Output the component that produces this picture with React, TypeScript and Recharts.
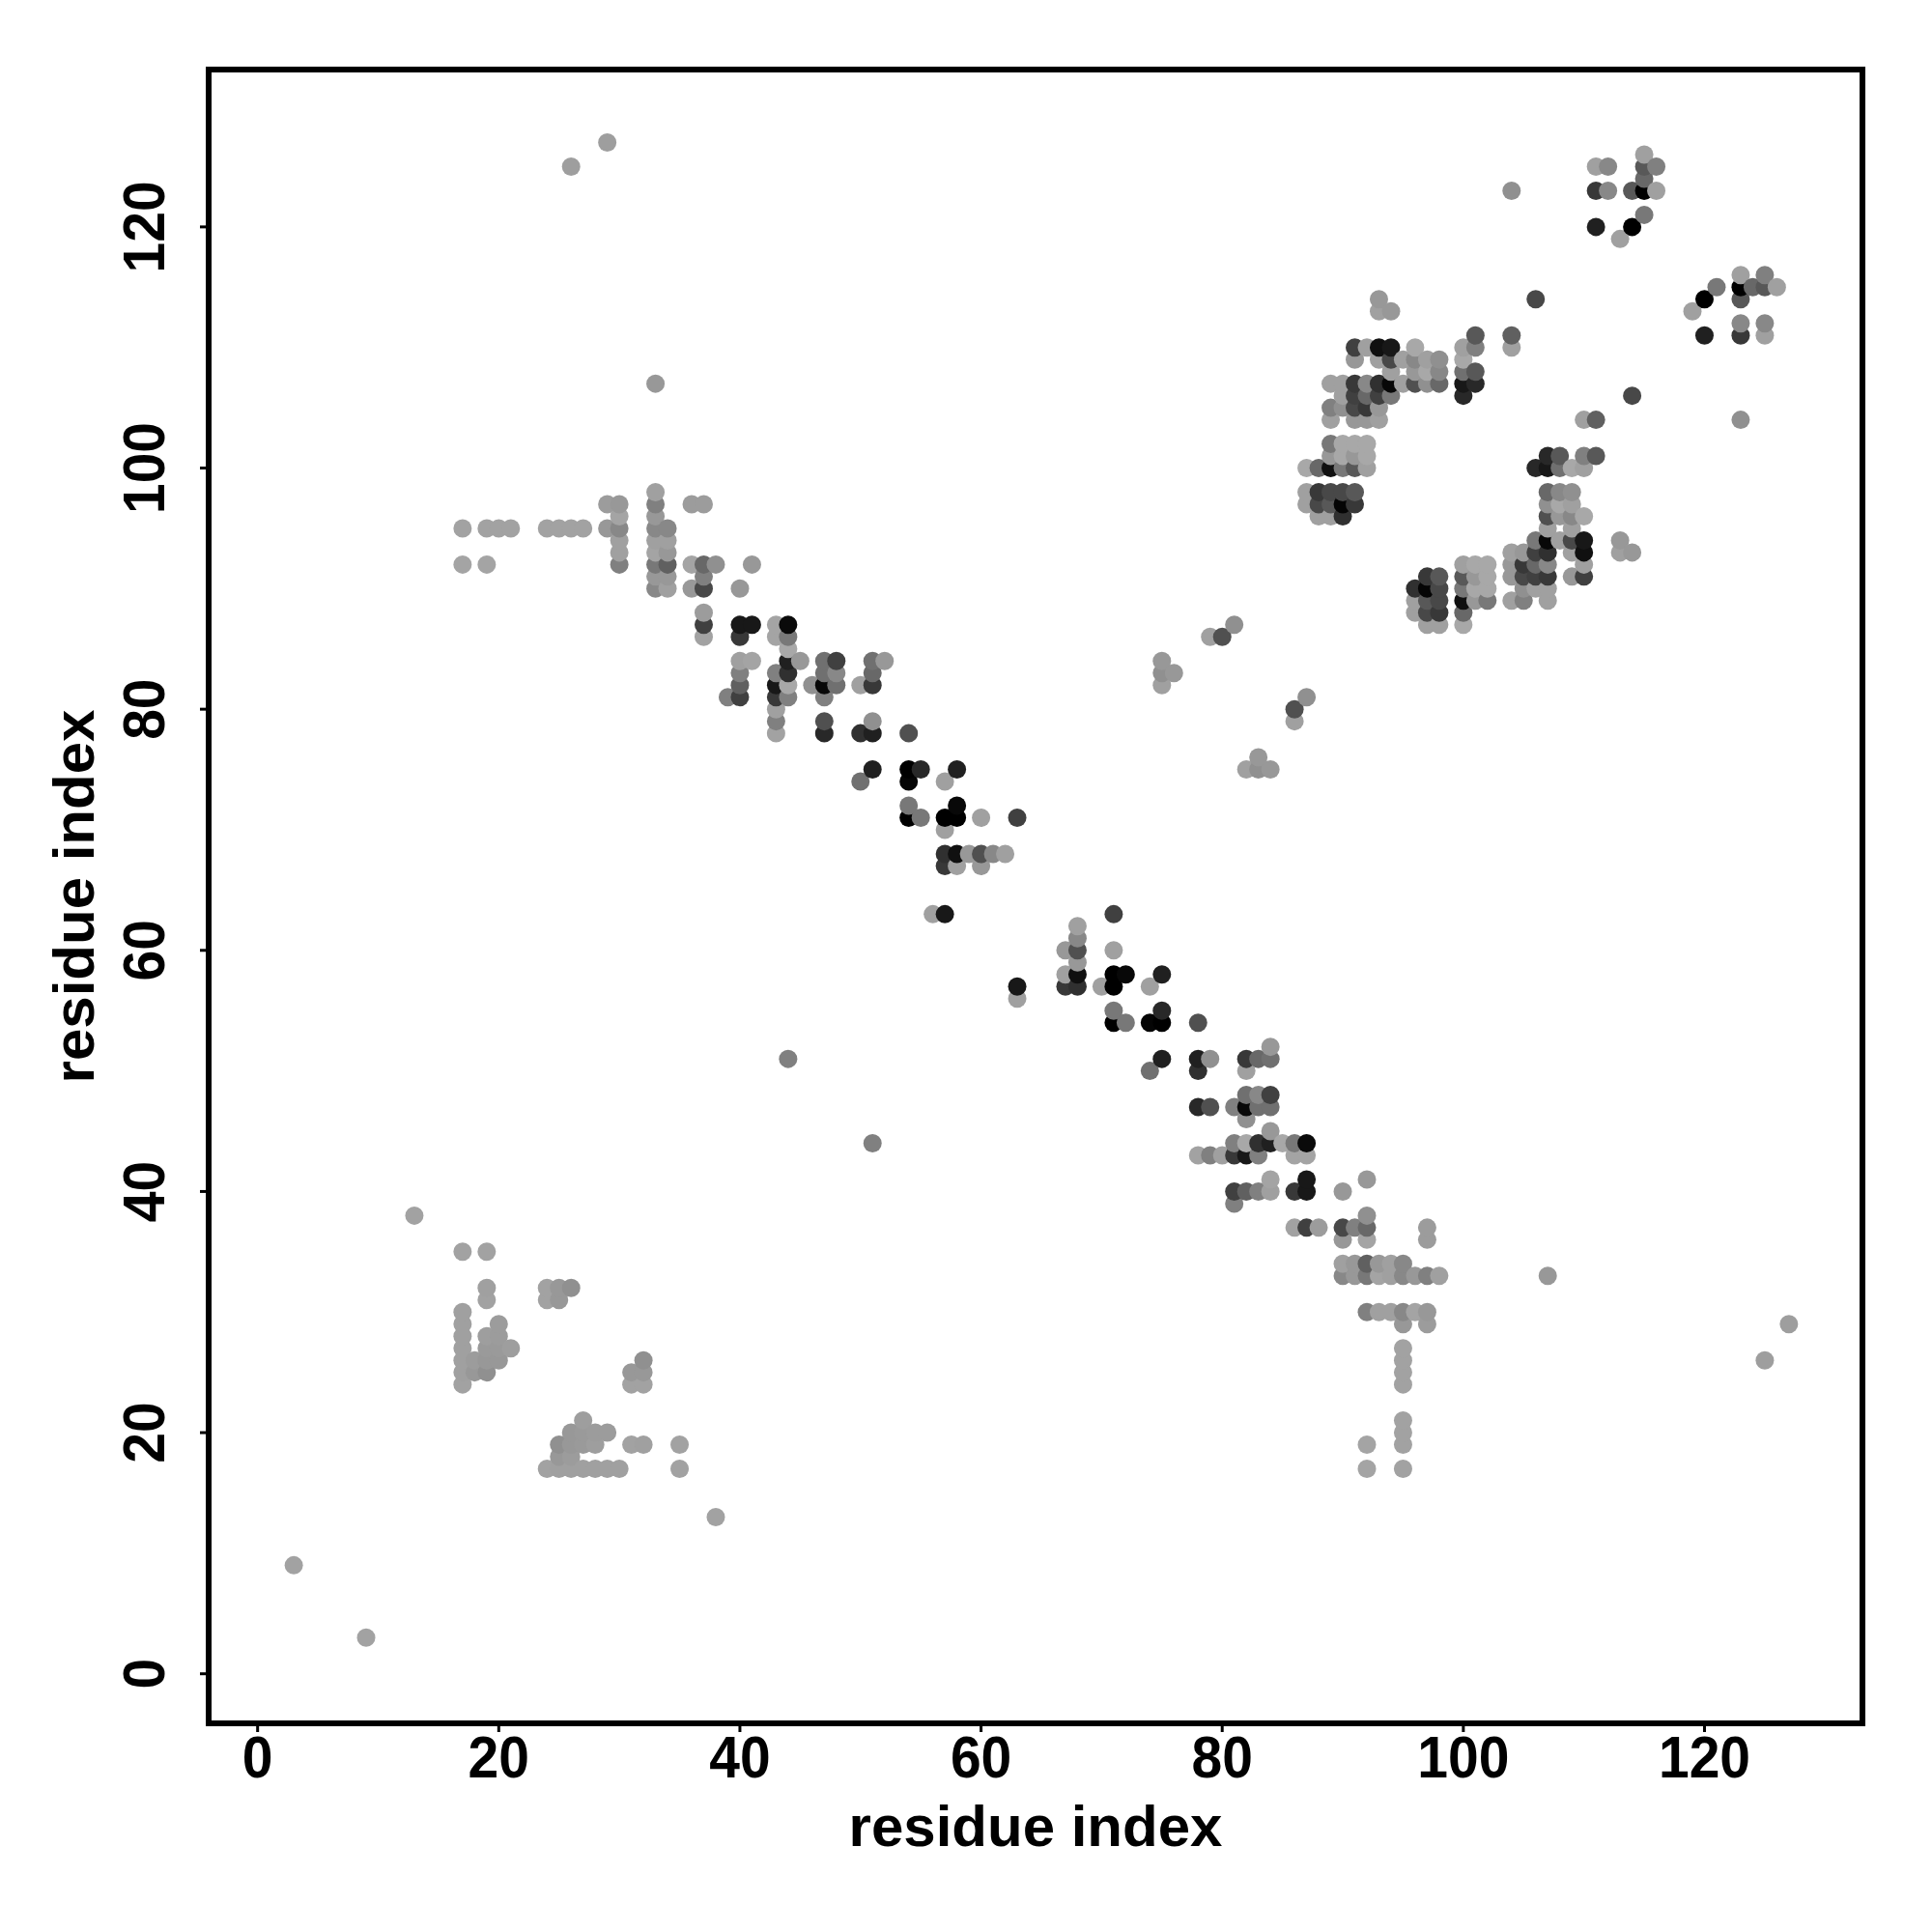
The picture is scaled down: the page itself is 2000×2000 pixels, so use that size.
import {
  ScatterChart,
  Scatter,
  XAxis,
  YAxis,
  ReferenceArea,
} from "recharts"

// [residue i, residue j, gray level], i < j. The map is symmetric, so the
// mirrored half is built below.
type Contact = [number, number, number]

const sheetContacts: Contact[] = [
  [3, 9, 0xa2], [13, 38, 0xa2],
  [17, 24, 0xa2], [17, 25, 0xa0], [17, 26, 0xa0], [17, 27, 0xa0], [17, 28, 0xa0], [17, 29, 0xa0], [17, 30, 0xa0],
  [17, 35, 0xa2], [17, 92, 0xa4], [17, 95, 0xa2],
  [18, 25, 0x98], [18, 26, 0x9c],
  [19, 25, 0x90], [19, 26, 0x98], [19, 27, 0x9a], [19, 28, 0x9e], [19, 31, 0xa2], [19, 32, 0xa0], [19, 35, 0xa2],
  [19, 92, 0xa4], [19, 95, 0xa2],
  [20, 26, 0x98], [20, 27, 0x9a], [20, 28, 0x9c], [20, 29, 0x9c], [20, 95, 0xa2],
  [21, 27, 0x9e], [21, 95, 0xa2],
  [24, 31, 0xa2], [24, 32, 0xa2], [24, 95, 0xa2],
  [25, 31, 0x98], [25, 32, 0x98], [25, 95, 0xa2],
  [26, 32, 0x90], [26, 95, 0xa2], [26, 125, 0x9e],
  [27, 95, 0xa2],
  [29, 95, 0x98], [29, 97, 0x9c], [29, 127, 0x9e],
]

const helixContacts: Contact[] = [
  [30, 92, 0x80], [30, 93, 0xa0], [30, 94, 0xa0], [30, 95, 0x88], [30, 96, 0xa4], [30, 97, 0x98],
  [33, 90, 0x88], [33, 91, 0x98], [33, 92, 0x78], [33, 93, 0xa4], [33, 94, 0xa0], [33, 95, 0x88], [33, 96, 0x98],
  [33, 97, 0x80], [33, 98, 0xa0], [33, 107, 0x98],
  [34, 90, 0xa0], [34, 91, 0x98], [34, 92, 0x60], [34, 93, 0x98], [34, 94, 0xa0], [34, 95, 0x88],
  [36, 90, 0x98], [36, 92, 0xa4], [36, 97, 0x9c],
  [37, 86, 0xa2], [37, 87, 0x40], [37, 88, 0x9c], [37, 90, 0x48], [37, 91, 0x80], [37, 92, 0x68], [37, 97, 0x9c],
  [38, 92, 0x90],
  [39, 81, 0x80],
  [40, 81, 0x40], [40, 82, 0x60], [40, 83, 0x80], [40, 84, 0xa0], [40, 86, 0x38], [40, 87, 0x18], [40, 90, 0x98],
  [41, 84, 0xa4], [41, 87, 0x18], [41, 92, 0x98],
  [43, 78, 0xa2], [43, 79, 0x80], [43, 80, 0xa0], [43, 81, 0x38], [43, 82, 0x18], [43, 83, 0x80], [43, 86, 0xa4], [43, 87, 0xa4],
  [44, 51, 0x80], [44, 81, 0x80], [44, 82, 0xa8], [44, 83, 0x30], [44, 84, 0x20], [44, 85, 0xa8], [44, 86, 0x78], [44, 87, 0x0a],
  [45, 84, 0x98],
  [46, 82, 0x90],
  [47, 78, 0x28], [47, 79, 0x50], [47, 81, 0x80], [47, 82, 0x08], [47, 83, 0x70], [47, 84, 0x70],
  [48, 82, 0x70], [48, 83, 0x88], [48, 84, 0x40],
]

const turnContacts: Contact[] = [
  [50, 74, 0x70], [50, 78, 0x30], [50, 82, 0xa0],
  [51, 75, 0x20], [51, 78, 0x20], [51, 79, 0x90], [51, 82, 0x38], [51, 83, 0x68], [51, 84, 0x70],
  [52, 84, 0x98],
  [54, 71, 0x00], [54, 72, 0x78], [54, 74, 0x05], [54, 75, 0x00], [54, 78, 0x50],
  [55, 71, 0x78], [55, 75, 0x28],
  [56, 63, 0xa0],
  [57, 63, 0x18], [57, 67, 0x38], [57, 68, 0x30], [57, 70, 0xa0], [57, 71, 0x00], [57, 74, 0xa0],
  [58, 67, 0xa0], [58, 68, 0x10], [58, 71, 0x00], [58, 72, 0x08], [58, 75, 0x20],
  [59, 68, 0x98],
  [60, 67, 0x98], [60, 68, 0x50], [60, 71, 0xa0],
  [61, 68, 0x88], [62, 68, 0xa0],
  [63, 71, 0x40],
  [75, 82, 0xa0], [75, 83, 0x90], [75, 84, 0x98], [76, 83, 0x98],
  [79, 86, 0xa0], [80, 86, 0x50], [81, 87, 0x90],
]

const coreContacts: Contact[] = [
  [87, 97, 0xa0], [87, 98, 0xa0], [87, 100, 0xa8],
  [88, 96, 0xa0], [88, 97, 0x48], [88, 98, 0x38], [88, 100, 0x68],
  [89, 96, 0xa0], [89, 97, 0x58], [89, 98, 0x48], [89, 100, 0x10], [89, 101, 0x98], [89, 102, 0x78], [89, 104, 0xa0],
  [89, 105, 0x80], [89, 107, 0xa0],
  [90, 96, 0x30], [90, 97, 0x05], [90, 98, 0x48], [90, 100, 0x78], [90, 101, 0xa8], [90, 102, 0xa8], [90, 105, 0x90],
  [90, 106, 0xa0], [90, 107, 0xa0],
  [91, 97, 0x38], [91, 98, 0x58], [91, 100, 0x58], [91, 101, 0x98], [91, 102, 0xa8], [91, 104, 0x98], [91, 105, 0x48],
  [91, 106, 0x40], [91, 107, 0x38], [91, 109, 0x98], [91, 110, 0x40],
  [92, 100, 0xa0], [92, 101, 0xa8], [92, 102, 0xa8], [92, 104, 0x98], [92, 105, 0x38], [92, 106, 0x68], [92, 107, 0x88],
  [92, 110, 0xa0],
  [93, 104, 0xa0], [93, 105, 0x98], [93, 106, 0x40], [93, 107, 0x30], [93, 109, 0xa0], [93, 110, 0x10], [93, 113, 0xa0],
  [93, 114, 0x98],
  [94, 106, 0x78], [94, 107, 0x08], [94, 108, 0xa0], [94, 109, 0x48], [94, 110, 0x18], [94, 113, 0x98],
  [95, 107, 0xa0], [95, 109, 0xa0],
  [96, 107, 0x50], [96, 108, 0x98], [96, 109, 0x88], [96, 110, 0xa8],
  [97, 107, 0x90], [97, 108, 0xa8], [97, 109, 0xa0],
  [98, 107, 0x68], [98, 108, 0x88], [98, 109, 0x90],
  [100, 106, 0x28], [100, 107, 0x18], [100, 108, 0x70], [100, 109, 0xa8], [100, 110, 0xa0],
  [101, 107, 0x28], [101, 108, 0x58], [101, 110, 0x80], [101, 111, 0x58],
]

const tailContacts: Contact[] = [
  [104, 110, 0xa0], [104, 111, 0x60], [104, 123, 0x90],
  [106, 114, 0x48],
  [111, 120, 0x20], [111, 123, 0x38], [111, 125, 0xa0],
  [112, 123, 0x88], [112, 125, 0x88],
  [113, 119, 0xa0],
  [114, 120, 0x00], [114, 123, 0x58],
  [115, 121, 0x78], [115, 123, 0x00], [115, 124, 0x68], [115, 125, 0x58], [115, 126, 0xa0],
  [116, 123, 0xa0], [116, 125, 0x80],
]

const axisTicks = [0, 20, 40, 60, 80, 100, 120]
const xDomain: [number, number] = [-4.06, 133.1]
const yDomain: [number, number] = [-4.11, 133.05]

const FONT = '"Liberation Sans", Arial, sans-serif'
const TICK_FONT_SIZE = 57
const TICK_STRETCH = 1.07

const grayHex = (g: number) => {
  const h = g.toString(16).padStart(2, "0")
  return `#${h}${h}${h}`
}

// mirror across the diagonal, later residues are painted on top
const points = [
  ...sheetContacts,
  ...helixContacts,
  ...turnContacts,
  ...coreContacts,
  ...tailContacts,
]
  .flatMap(([i, j, g]) => [
    { x: i, y: j, fill: grayHex(g) },
    { x: j, y: i, fill: grayHex(g) },
  ])
  .sort((a, b) => a.x - b.x || a.y - b.y)

function XTick({ x, y, payload }: any) {
  return (
    <text
      transform={`translate(${x} ${y + 45}) scale(1 ${TICK_STRETCH})`}
      textAnchor="middle"
      fontFamily={FONT}
      fontWeight="bold"
      fontSize={TICK_FONT_SIZE}
      fill="#000"
    >
      {payload.value}
    </text>
  )
}

function YTick({ x, y, payload }: any) {
  return (
    <text
      transform={`translate(${x - 35} ${y}) rotate(-90) scale(1 ${TICK_STRETCH})`}
      textAnchor="middle"
      fontFamily={FONT}
      fontWeight="bold"
      fontSize={TICK_FONT_SIZE}
      fill="#000"
    >
      {payload.value}
    </text>
  )
}

function Dot({ cx, cy, payload }: any) {
  return <circle cx={cx} cy={cy} r={9.5} fill={payload.fill} />
}

const titleStyle = {
  fontFamily: FONT,
  fontWeight: "bold",
  fontSize: 60,
  fill: "#000",
  textAnchor: "middle",
}

export default function App() {
  return (
    <div style={{ position: "absolute", left: 0, top: 0, background: "#fff" }}>
      <ScatterChart
        width={2000}
        height={2000}
        margin={{ top: 72, right: 72, bottom: 0, left: 0 }}
      >
        <XAxis
          type="number"
          dataKey="x"
          domain={xDomain}
          ticks={axisTicks}
          interval={0}
          height={216}
          axisLine={false}
          tickSize={9}
          tickLine={{ stroke: "#000", strokeWidth: 3 }}
          tick={<XTick />}
          label={{
            value: "residue index",
            position: "insideBottom",
            offset: 89,
            style: titleStyle,
          }}
        />
        <YAxis
          type="number"
          dataKey="y"
          domain={yDomain}
          ticks={axisTicks}
          interval={0}
          width={216}
          axisLine={false}
          tickSize={9}
          tickLine={{ stroke: "#000", strokeWidth: 3 }}
          tick={<YTick />}
          label={{
            value: "residue index",
            angle: -90,
            position: "insideLeft",
            offset: 76,
            style: titleStyle,
          }}
        />
        <Scatter data={points} shape={<Dot />} isAnimationActive={false} />
        <ReferenceArea
          x1={xDomain[0]}
          x2={xDomain[1]}
          y1={yDomain[0]}
          y2={yDomain[1]}
          fill="none"
          stroke="#000"
          strokeWidth={6}
          ifOverflow="visible"
        />
      </ScatterChart>
    </div>
  )
}
